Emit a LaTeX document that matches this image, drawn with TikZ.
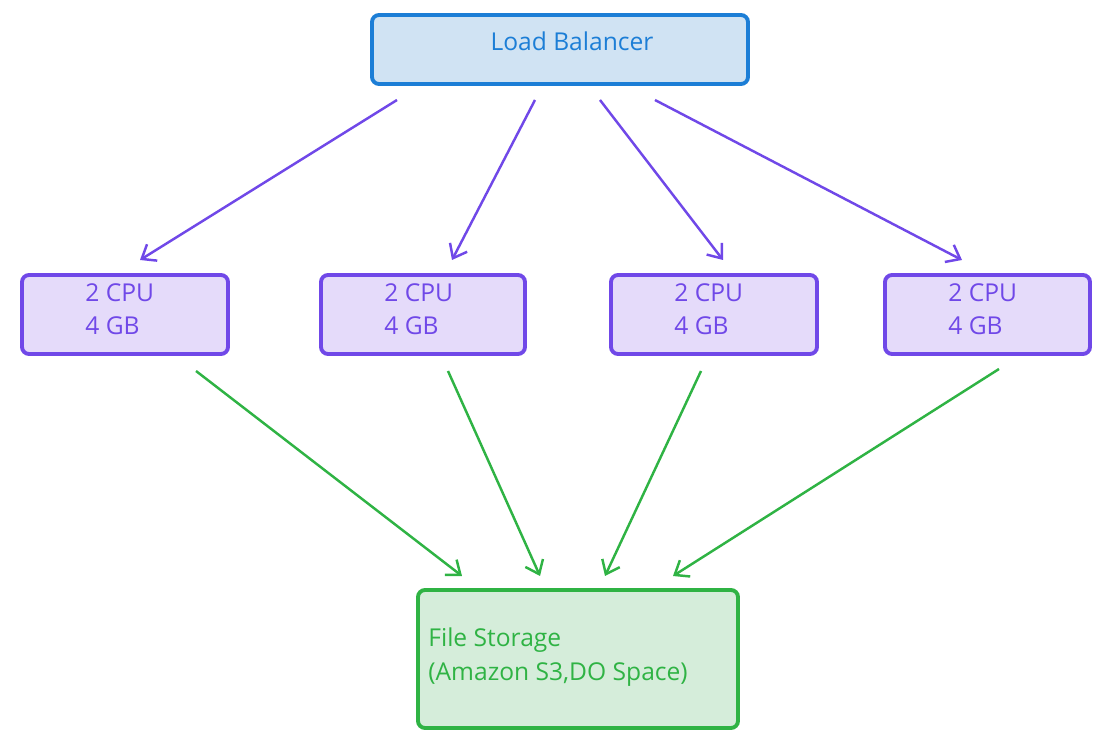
\documentclass[tikz,border=0pt]{standalone}
\usepackage{fontspec}
\setmainfont{Open Sans}
\usetikzlibrary{arrows.meta}
\definecolor{lbline}{HTML}{1C7ED6}
\definecolor{lbfill}{HTML}{D0E3F3}
\definecolor{srvline}{HTML}{7048E8}
\definecolor{srvfill}{HTML}{E5DBFA}
\definecolor{stline}{HTML}{2FB344}
\definecolor{stfill}{HTML}{D5EDDA}
\tikzset{
	box/.style = {draw, line width=2.2pt, rounded corners=4pt},
	txt/.style = {font=\fontsize{14}{19}\selectfont, align=left, inner sep=0pt},
	flow/.style = {line width=1.4pt, -{Straight Barb[length=7pt,width=11pt]}}
}
\begin{document}
\begin{tikzpicture}[x=0.02cm,y=-0.02cm]
\useasboundingbox (0,0) rectangle (1113,746);
% load balancer
\draw[box, draw=lbline, fill=lbfill] (372,15) rectangle (748,84);
\node[txt, text=lbline] (lb) at (572,41) {Load Balancer};
% servers
\foreach \n/\xa/\xb in {1/22/228, 2/321/525, 3/611/817, 4/885/1090}
{
	\draw[box, draw=srvline, fill=srvfill] (\xa,275) rectangle (\xb,354);
	\node[txt, text=srvline, anchor=west] (srv\n) at (\xa+63,309) {2 CPU\\4 GB};
}
% file storage
\draw[box, draw=stline, fill=stfill] (418,590) rectangle (738,728);
\node[txt, text=stline, anchor=west] (store) at (428,657) {File Storage\\(Amazon S3,DO Space)};
% arrow ends
\foreach \n/\xa/\xb in {1/397/140, 2/535/452, 3/600/723, 4/655/962}
{
	\coordinate (lbout\n) at (\xa,100);
	\coordinate (srvin\n) at (\xb,260);
	\draw[flow, srvline] (lbout\n) -- (srvin\n);
}
\foreach \n/\xa/\ya/\xb in {1/196/371/462, 2/448/371/540, 3/701/371/605, 4/999/369/673}
{
	\coordinate (srvout\n) at (\xa,\ya);
	\coordinate (storein\n) at (\xb,576);
	\draw[flow, stline] (srvout\n) -- (storein\n);
}
\end{tikzpicture}
\end{document}
